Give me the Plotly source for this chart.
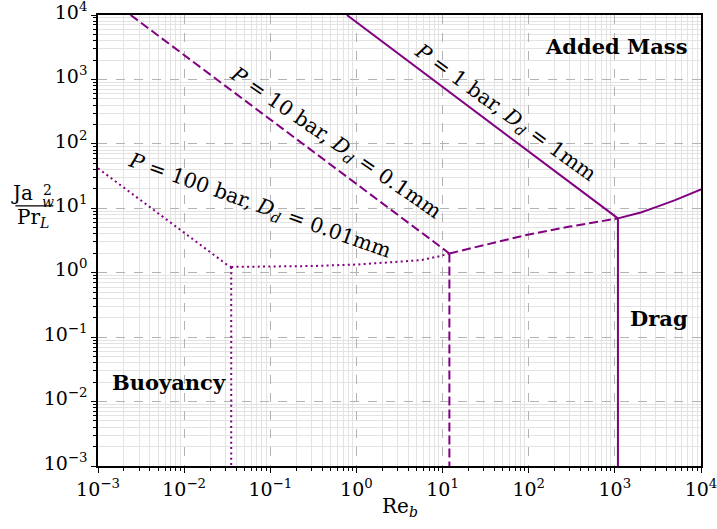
import numpy as np
import plotly.graph_objects as go

# ---------------- data ----------------
# P = 1 bar, D_d = 1 mm  (solid)
re_1bar_added = [0.774, 1086.0]
ja_1bar_added = [1.0e4, 6.97]
re_1bar_drag = [1086.0, 2000.0, 3055.0, 5000.0, 1.0e4]
ja_1bar_drag = [6.97, 8.6, 10.5, 13.4, 19.7]
re_1bar_buoy = [1086.0, 1086.0]
ja_1bar_buoy = [6.97, 1.0e-3]

# P = 10 bar, D_d = 0.1 mm  (dashed)
re_10bar_added = [0.00239, 12.0]
ja_10bar_added = [1.0e4, 1.99]
re_10bar_drag = [12.0, 35.6, 100.0, 300.0, 1086.0]
ja_10bar_drag = [1.99, 2.84, 3.93, 5.2, 6.97]
re_10bar_buoy = [12.0, 12.0]
ja_10bar_buoy = [1.99, 1.0e-3]

# P = 100 bar, D_d = 0.01 mm  (dotted)
re_100bar_added = [0.001, 0.0327, 0.0352]
ja_100bar_added = [41.7, 1.28, 1.23]
re_100bar_drag = [0.0352, 0.1, 0.3, 1.0, 5.48, 9.35, 12.0]
ja_100bar_drag = [1.23, 1.235, 1.27, 1.34, 1.56, 1.81, 1.99]
re_100bar_buoy = [0.0352, 0.0352]
ja_100bar_buoy = [1.23, 1.0e-3]

tick_exponents = [-3, -2, -1, 0, 1, 2, 3, 4]
tick_labels = ["10<sup>\u22123</sup>", "10<sup>\u22122</sup>", "10<sup>\u22121</sup>",
               "10<sup>0</sup>", "10<sup>1</sup>", "10<sup>2</sup>",
               "10<sup>3</sup>", "10<sup>4</sup>"]

label_1bar = "<i>P</i> = 1 bar, <i>D<sub>d</sub></i> = 1mm"
label_10bar = "<i>P</i> = 10 bar, <i>D<sub>d</sub></i> = 0.1mm"
label_100bar = "<i>P</i> = 100 bar, <i>D<sub>d</sub></i> = 0.01mm"

# ---------------- figure ----------------
PURPLE = "#800080"
FONT = "DejaVu Serif"

fig = go.Figure()

def add(xs, ys, dash):
    fig.add_trace(go.Scatter(x=xs, y=ys, mode="lines", showlegend=False,
                             line=dict(color=PURPLE, width=2, dash=dash),
                             hoverinfo="skip"))

for xs, ys in [(re_1bar_added, ja_1bar_added), (re_1bar_drag, ja_1bar_drag),
               (re_1bar_buoy, ja_1bar_buoy)]:
    add(xs, ys, "solid")
for xs, ys in [(re_10bar_added, ja_10bar_added), (re_10bar_drag, ja_10bar_drag),
               (re_10bar_buoy, ja_10bar_buoy)]:
    add(xs, ys, "9px,4px")
for xs, ys in [(re_100bar_added, ja_100bar_added), (re_100bar_drag, ja_100bar_drag),
               (re_100bar_buoy, ja_100bar_buoy)]:
    add(xs, ys, "2px,3.3px")

tickvals = [10.0 ** e for e in tick_exponents]
minorvals = [m * 10.0 ** e for e in tick_exponents[:-1] for m in range(2, 10)]

axis_common = dict(
    type="log", range=[-3, 4],
    tickmode="array", tickvals=tickvals, ticktext=tick_labels,
    ticks="outside", ticklen=5, tickwidth=1.2, tickcolor="black",
    showline=True, linecolor="black", linewidth=1.5, mirror=True,
    showgrid=True, gridcolor="#b3b3b3", gridwidth=1, griddash="dash",
    zeroline=False, ticklabeloverflow="allow",
    tickfont=dict(family=FONT, size=19, color="black"),
    minor=dict(tickmode="array", tickvals=minorvals, ticks="outside",
               ticklen=3, tickwidth=1, tickcolor="black",
               showgrid=True, gridcolor="#e3e3e3", gridwidth=1, griddash="solid"),
)
fig.update_xaxes(**axis_common)
fig.update_yaxes(**axis_common)
fig.update_yaxes(ticklabelshift=-3)

ann = []
txt_font = dict(family=FONT, size=20.5, color="black")
ann.append(dict(x=1.725, y=2.481, xref="x", yref="y", text=label_1bar,
                textangle=36, showarrow=False, font=txt_font))
ann.append(dict(x=-0.247, y=2.014, xref="x", yref="y", text=label_10bar,
                textangle=34.5, showarrow=False, font=txt_font))
ann.append(dict(x=-1.129, y=1.034, xref="x", yref="y", text=label_100bar,
                textangle=19.5, showarrow=False, font=txt_font))
bold_font = dict(family=FONT, size=21, color="black")
ann.append(dict(x=3.024, y=3.507, xref="x", yref="y", text="<b>Added Mass</b>",
                showarrow=False, font=bold_font))
ann.append(dict(x=3.512, y=-0.706, xref="x", yref="y", text="<b>Drag</b>",
                showarrow=False, font=bold_font))
ann.append(dict(x=-2.173, y=-1.703, xref="x", yref="y", text="<b>Buoyancy</b>",
                showarrow=False, font=bold_font))
# axis titles
lab_font = dict(family=FONT, size=20, color="black")
small_font = dict(family=FONT, size=14, color="black")
ann.append(dict(x=0.5, y=-0.09, xref="paper", yref="paper",
                text="Re<sub><i>b</i></sub>", showarrow=False, font=lab_font,
                xanchor="center", yanchor="middle"))
ann.append(dict(x=-0.1254, y=0.6054, xref="paper", yref="paper",
                text="Ja", showarrow=False,
                font=lab_font, xanchor="center", yanchor="middle"))
ann.append(dict(x=-0.0845, y=0.6117, xref="paper", yref="paper",
                text="2", showarrow=False,
                font=small_font, xanchor="center", yanchor="middle"))
ann.append(dict(x=-0.0828, y=0.5851, xref="paper", yref="paper",
                text="<i>w</i>", showarrow=False,
                font=small_font, xanchor="center", yanchor="middle"))
ann.append(dict(x=-0.1072, y=0.5497, xref="paper", yref="paper",
                text="Pr<sub><i>L</i></sub>", showarrow=False,
                font=lab_font, xanchor="center", yanchor="middle"))

fig.update_layout(
    width=717, height=529,
    margin=dict(l=98, r=16, t=15, b=63, autoexpand=False),
    paper_bgcolor="white", plot_bgcolor="white",
    annotations=ann,
    shapes=[dict(type="line", xref="paper", yref="paper",
                 x0=-0.137, x1=-0.074, y0=0.5766, y1=0.5766,
                 line=dict(color="black", width=1.2))],
)

# remove the browser's default 8px page margin so the figure fills the window
fig.write_html("out.html", config={"displayModeBar": False},
               post_script="document.body.style.margin='0px';")
